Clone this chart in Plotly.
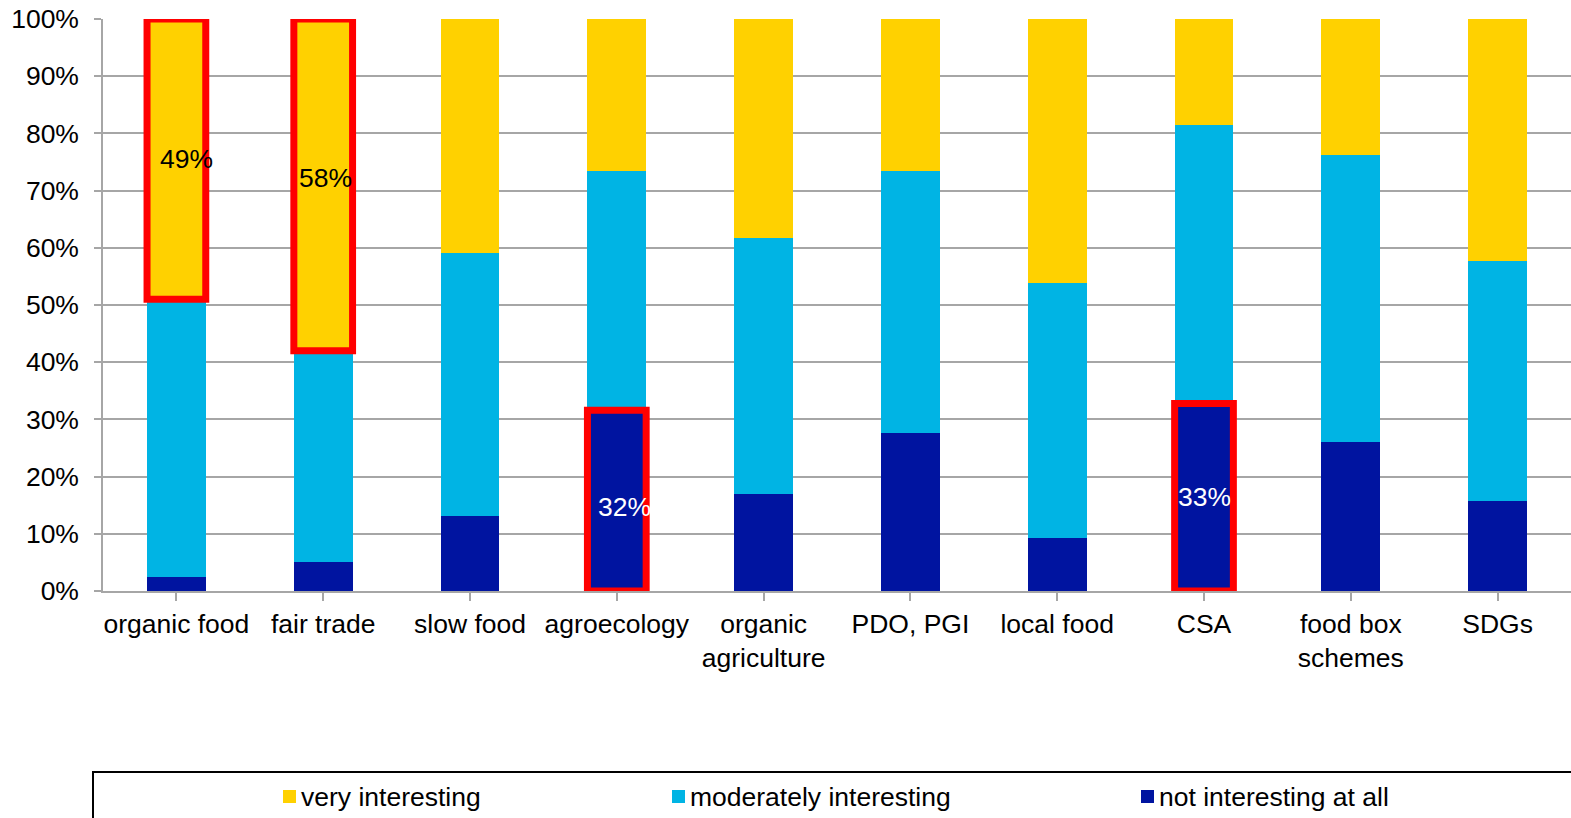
import plotly.graph_objects as go

# ---------------- data ----------------
categories = ["organic food", "fair trade", "slow food", "agroecology",
              "organic<br>agriculture", "PDO, PGI", "local food", "CSA",
              "food box<br>schemes", "SDGs"]
series_names = ["very interesting", "moderately interesting", "not interesting at all"]

not_interesting = [2.5, 5.1, 13.1, 31.6, 17.0, 27.6, 9.2, 32.8, 26.1, 15.7]
moderately = [48.5, 36.9, 46.0, 41.9, 44.7, 45.9, 44.6, 48.6, 50.1, 42.0]
very = [49.0, 58.0, 40.9, 26.5, 38.3, 26.5, 46.2, 18.6, 23.8, 42.3]

# highlighted segments: (category index, series)
highlight_cat = [0, 1, 3, 7]
highlight_series = ["very", "very", "not", "not"]

colors = {"very": "#FFD100", "moderately": "#00B4E4", "not": "#0014A0"}
FONT = "Liberation Sans, Arial, sans-serif"
FS = 26.5

W, H = 1571, 818
ML, MR, MT, MB = 103, 0, 19, 227
PW = W - ML - MR
PH = H - MT - MB


def px_x(p):
    return (p - ML) / PW


def px_y(p):
    return (H - MB - p) / PH


x_idx = list(range(len(categories)))

fig = go.Figure()
fig.add_trace(go.Bar(x=x_idx, y=not_interesting, name=series_names[2],
                     marker=dict(color=colors["not"], line=dict(width=0))))
fig.add_trace(go.Bar(x=x_idx, y=moderately, name=series_names[1],
                     marker=dict(color=colors["moderately"], line=dict(width=0))))
fig.add_trace(go.Bar(x=x_idx, y=very, name=series_names[0],
                     marker=dict(color=colors["very"], line=dict(width=0))))

bar_w = 0.4
shapes = []
annotations = []
label_xshift = [10, 2, 8, 0]
label_yshift = [0, 7, -6, 0]
for k, (ci, s) in enumerate(zip(highlight_cat, highlight_series)):
    if s == "very":
        y0 = not_interesting[ci] + moderately[ci]
        y1 = y0 + very[ci]
        val = very[ci]
        fc = "black"
    else:
        y0 = 0
        y1 = not_interesting[ci]
        val = not_interesting[ci]
        fc = "white"
    shapes.append(dict(type="rect", xref="x", yref="y",
                       x0=ci - bar_w / 2, x1=ci + bar_w / 2, y0=y0, y1=y1,
                       line=dict(color="#FF0000", width=7), layer="above"))
    annotations.append(dict(x=ci, y=(y0 + y1) / 2, xref="x", yref="y",
                            text=f"{round(val)}%", showarrow=False,
                            xshift=label_xshift[k], yshift=label_yshift[k],
                            font=dict(family=FONT, size=FS, color=fc)))

# legend box
shapes.append(dict(type="rect", xref="paper", yref="paper",
                   x0=px_x(93), x1=px_x(1600), y0=px_y(840), y1=px_y(772),
                   line=dict(color="black", width=2), fillcolor="rgba(0,0,0,0)"))
legend_items = [("very", series_names[0], 283),
                ("moderately", series_names[1], 672),
                ("not", series_names[2], 1141)]
for key, name, xp in legend_items:
    shapes.append(dict(type="rect", xref="paper", yref="paper",
                       x0=px_x(xp), x1=px_x(xp + 13), y0=px_y(803), y1=px_y(790),
                       line=dict(width=0), fillcolor=colors[key]))
    annotations.append(dict(x=px_x(xp + 16), y=px_y(797), xref="paper", yref="paper",
                            xanchor="left", yanchor="middle", text=name, showarrow=False,
                            font=dict(family=FONT, size=FS, color="black")))

grid_c = "#A6A6A6"
fig.update_layout(
    width=W, height=H,
    margin=dict(l=ML, r=MR, t=MT, b=MB),
    barmode="stack", bargap=1 - bar_w,
    plot_bgcolor="white", paper_bgcolor="white",
    showlegend=False,
    hovermode=False,
    font=dict(family=FONT, size=FS, color="black"),
    shapes=shapes, annotations=annotations,
    xaxis=dict(tickmode="array", tickvals=x_idx, ticktext=categories,
               range=[-0.5, len(categories) - 0.5],
               showline=True, linecolor=grid_c, linewidth=1.5,
               ticks="outside", ticklen=8, tickcolor=grid_c, tickwidth=1.5,
               showgrid=False, tickfont=dict(family=FONT, size=FS, color="black")),
    yaxis=dict(range=[0, 100], dtick=10, ticksuffix="%",
               showgrid=True, gridcolor=grid_c, gridwidth=1.5,
               showline=True, linecolor=grid_c, linewidth=1.5,
               ticks="outside", ticklen=7, tickcolor=grid_c, tickwidth=1.5,
               zeroline=False, ticklabelstandoff=10,
               tickfont=dict(family=FONT, size=FS, color="black")),
)

fig.write_html(
    "out.html",
    config={"displayModeBar": False},
    post_script="document.body.style.margin='0';document.body.style.overflow='hidden';",
)
